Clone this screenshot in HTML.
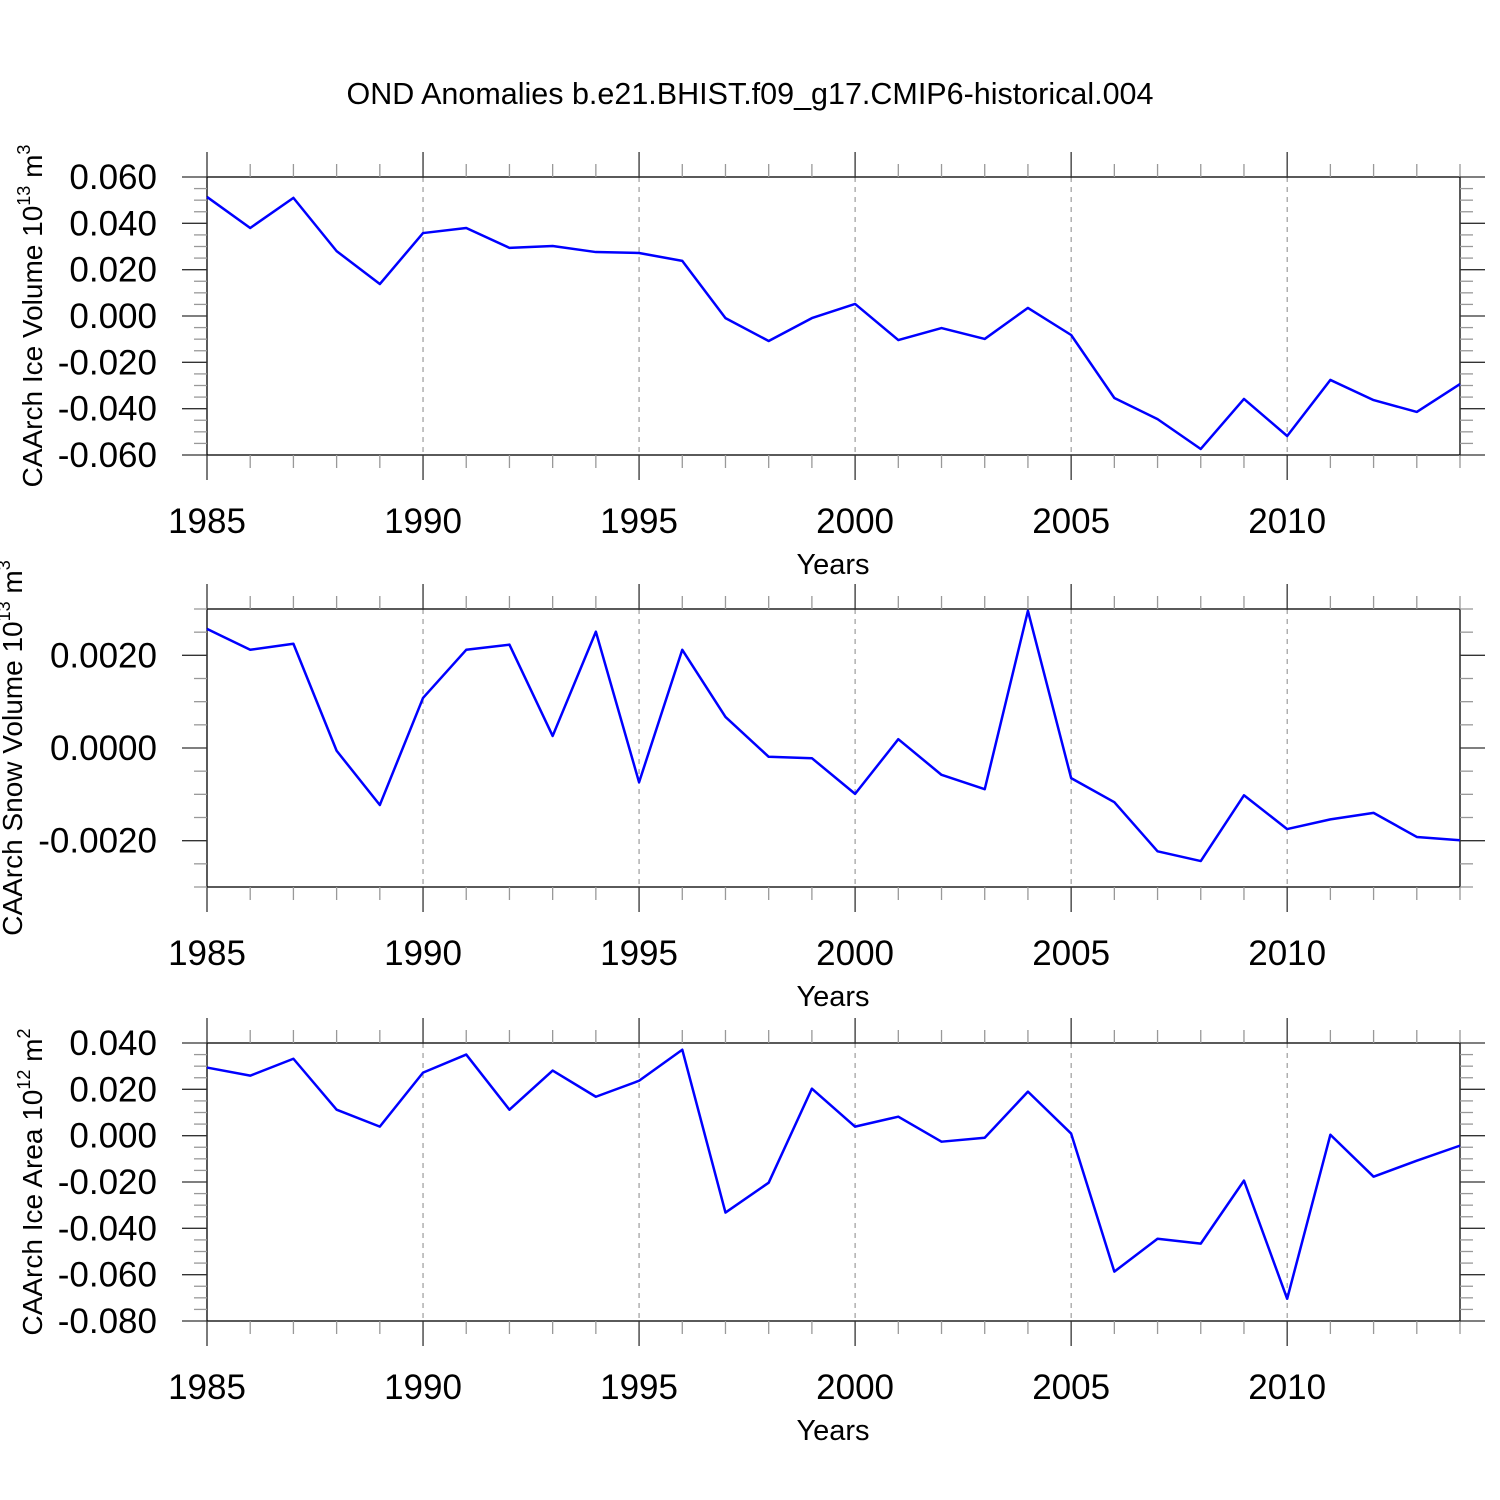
<!DOCTYPE html>
<html><head><meta charset="utf-8"><style>
body{margin:0;background:#fff}
svg{display:block;font-family:"Liberation Sans",sans-serif}
</style></head><body>
<svg id="c" width="1500" height="1500" viewBox="0 0 1500 1500">
<text x="750" y="104" font-size="30.5" text-anchor="middle">OND Anomalies b.e21.BHIST.f09_g17.CMIP6-historical.004</text>
</svg>
<script>
const years = [1985,1986,1987,1988,1989,1990,1991,1992,1993,1994,1995,1996,1997,1998,1999,2000,2001,2002,2003,2004,2005,2006,2007,2008,2009,2010,2011,2012,2013,2014];
const iceVolume = [0.0514,0.038,0.051,0.028,0.0138,0.0358,0.038,0.0294,0.0302,0.0276,0.0272,0.0238,-0.0009,-0.0108,-0.0009,0.0052,-0.0104,-0.0052,-0.0099,0.0035,-0.0082,-0.0354,-0.0445,-0.0574,-0.0358,-0.0518,-0.0276,-0.0363,-0.0414,-0.0294];
const snowVolume = [0.00257,0.00212,0.00225,-0.00006,-0.00123,0.00108,0.00212,0.00223,0.00026,0.00251,-0.00074,0.00212,0.00067,-0.00019,-0.00022,-0.00099,0.00019,-0.00058,-0.00089,0.00296,-0.00065,-0.00117,-0.00223,-0.00244,-0.00102,-0.00175,-0.00154,-0.0014,-0.00192,-0.00199];
const iceArea = [0.0294,0.0259,0.0332,0.0112,0.0039,0.0272,0.035,0.0112,0.0281,0.0168,0.0237,0.0371,-0.0332,-0.0203,0.0203,0.0039,0.0082,-0.0026,-0.0009,0.019,0.0009,-0.0587,-0.0445,-0.0466,-0.0194,-0.0704,0.0004,-0.0177,-0.0108,-0.0043];
const xTicks = [1985,1990,1995,2000,2005,2010];
const iceVolTicks = [-0.06,-0.04,-0.02,0,0.02,0.04,0.06];
const snowTicks = [-0.002,0,0.002];
const areaTicks = [-0.08,-0.06,-0.04,-0.02,0,0.02,0.04];

const svg=document.getElementById('c');
const NS='http://www.w3.org/2000/svg';
function el(t,a,p){const e=document.createElementNS(NS,t);for(const k in a)e.setAttribute(k,a[k]);(p||svg).appendChild(e);return e;}
const X0=207,X1=1460;
const xs=y=>X0+(y-1985)/(2014-1985)*(X1-X0);

function panel(name,top,bot,ymin,ymax,data,ticks,fmt,minorStep,ylabelParts,labelX){
  const g=el('g',{});
  
  
  const ys=v=>bot-(v-ymin)/(ymax-ymin)*(bot-top);
  for(let y=1990;y<=2010;y+=5){
    const l=el('line',{x1:xs(y),x2:xs(y),y1:top,y2:bot,stroke:'#888','stroke-width':1,'stroke-dasharray':'5,5'},g);
    
    
  }
  const r=el('rect',{x:X0,y:top,width:X1-X0,height:bot-top,fill:'none',stroke:'#000','stroke-width':1.3},g);
  
  
  for(let y=1985;y<=2014;y++){
    const maj=(y%5===0),len=maj?25:13,x=xs(y);
    el('line',{x1:x,x2:x,y1:top,y2:top-len,stroke:maj?'#333':'#999','stroke-width':1.3},g);
    el('line',{x1:x,x2:x,y1:bot,y2:bot+len,stroke:maj?'#333':'#999','stroke-width':1.3},g);
  }
  xTicks.forEach(y=>{
    const t=el('text',{x:xs(y),y:bot+78,'font-size':35,'text-anchor':'middle'},g);t.textContent=y;
    
    
  });
  const xt=el('text',{x:833,y:bot+119,'font-size':29,'text-anchor':'middle'},g);xt.textContent='Years';
  
  
  const n=Math.round((ymax-ymin)/minorStep);
  for(let i=0;i<=n;i++){
    const v=ymin+i*minorStep,y=ys(v);
    const maj=ticks.some(t=>Math.abs(t-v)<minorStep/10),len=maj?25:13;
    el('line',{x1:X0,x2:X0-len,y1:y,y2:y,stroke:maj?'#333':'#999','stroke-width':1.3},g);
    el('line',{x1:X1,x2:X1+len,y1:y,y2:y,stroke:maj?'#333':'#999','stroke-width':1.3},g);
  }
  ticks.forEach(v=>{
    const t=el('text',{x:157,y:ys(v)+12,'font-size':35,'text-anchor':'end'},g);t.textContent=fmt(v);
    
    
  });
  const cy=(top+bot)/2;
  const yt=el('text',{x:labelX,y:cy,'font-size':28,'text-anchor':'middle',transform:`rotate(-90 ${labelX} ${cy})`},g);
  
  
  yt.innerHTML=ylabelParts;
  const pts=data.map((v,i)=>xs(years[i])+','+ys(v)).join(' ');
  const pl=el('polyline',{points:pts,fill:'none',stroke:'#0000ff','stroke-width':2.5,'stroke-linejoin':'round'},g);
  
  
}
const f3=v=>(v<0?'-':'')+Math.abs(v).toFixed(3);
const f4=v=>(v<0?'-':'')+Math.abs(v).toFixed(4);
panel('ice-volume',177,455,-0.06,0.06,iceVolume,iceVolTicks,f3,0.005,'CAArch Ice Volume 10<tspan font-size="18" dy="-12">13</tspan><tspan dy="12"> m</tspan><tspan font-size="18" dy="-12">3</tspan>',42);
panel('snow-volume',609,887,-0.003,0.003,snowVolume,snowTicks,f4,0.0005,'CAArch Snow Volume 10<tspan font-size="18" dy="-12">13</tspan><tspan dy="12"> m</tspan><tspan font-size="18" dy="-12">3</tspan>',22);
panel('ice-area',1043,1321,-0.08,0.04,iceArea,areaTicks,f3,0.005,'CAArch Ice Area 10<tspan font-size="18" dy="-12">12</tspan><tspan dy="12"> m</tspan><tspan font-size="18" dy="-12">2</tspan>',42);
</script>
</body></html>
